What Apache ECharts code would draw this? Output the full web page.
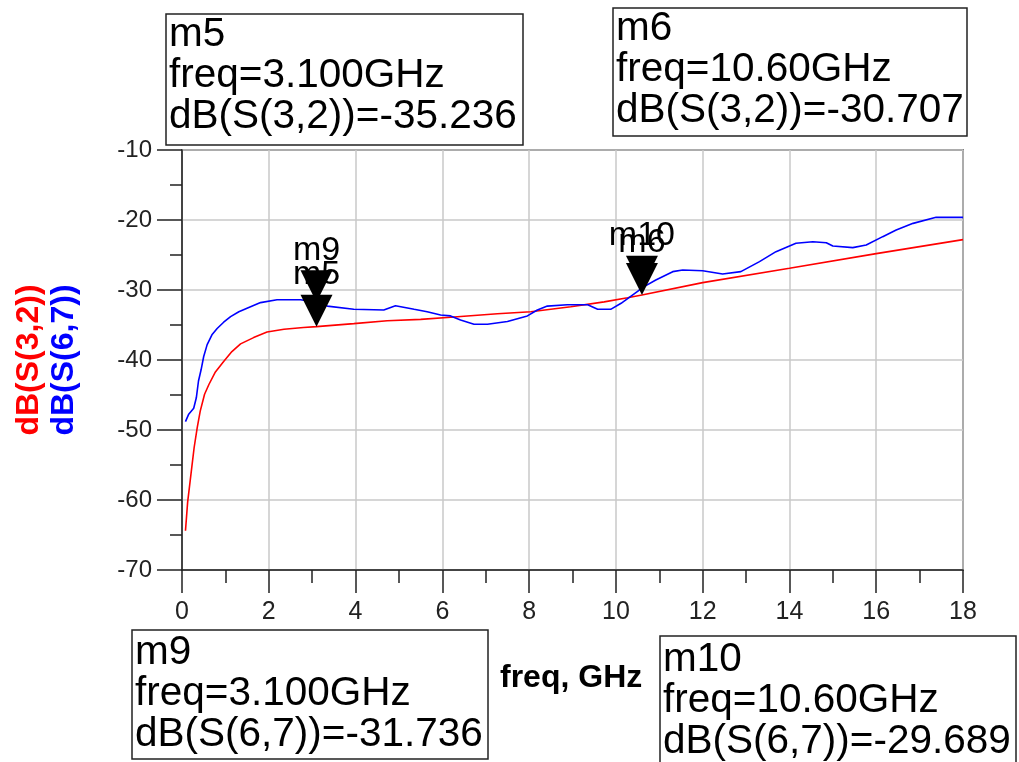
<!DOCTYPE html>
<html><head><meta charset="utf-8">
<script src="https://cdn.jsdelivr.net/npm/echarts@6/dist/echarts.min.js"></script>
<style>html,body{margin:0;padding:0;background:#fff}#c{width:1019px;height:762px}</style>
</head><body><div id="c"></div>
<script>
// dB(S(3,2)) — red trace
const s32Freq = [0.08,0.13,0.18,0.23,0.28,0.35,0.42,0.52,0.62,0.77,0.96,1.15,1.35,1.65,1.96,2.35,2.8,3.1,3.96,4.73,5.5,6.27,7.27,8.04,8.96,9.73,10.27,10.6,12,14,16,18];
const s32dB   = [-64.4,-60.3,-57.7,-55.1,-52.5,-49.7,-47.3,-44.9,-43.5,-41.7,-40.2,-38.8,-37.7,-36.8,-36.0,-35.6,-35.35,-35.236,-34.8,-34.4,-34.2,-33.85,-33.4,-33.1,-32.4,-31.7,-31.1,-30.707,-28.95,-26.9,-24.8,-22.8];
// dB(S(6,7)) — blue trace
const s67Freq = [0.08,0.15,0.27,0.33,0.38,0.44,0.5,0.58,0.69,0.81,0.96,1.12,1.31,1.58,1.81,2.19,2.73,3.1,3.35,3.96,4.65,4.92,5.35,5.65,5.96,6.19,6.42,6.73,7.04,7.5,7.96,8.19,8.42,8.88,9.35,9.58,9.88,10.12,10.5,10.6,10.92,11.31,11.54,12,12.46,12.88,13.31,13.69,14.15,14.54,14.85,15,15.46,15.77,16.15,16.46,16.85,17.38,18];
const s67dB   = [-48.8,-47.8,-46.9,-45.4,-43.0,-41.4,-39.5,-37.8,-36.4,-35.5,-34.6,-33.8,-33.1,-32.4,-31.8,-31.4,-31.4,-31.736,-32.3,-32.76,-32.86,-32.24,-32.76,-33.1,-33.57,-33.7,-34.3,-34.9,-34.9,-34.5,-33.7,-32.86,-32.3,-32.1,-32.1,-32.76,-32.76,-31.9,-30.2,-29.689,-28.57,-27.38,-27.14,-27.24,-27.71,-27.38,-25.95,-24.52,-23.33,-23.1,-23.24,-23.71,-23.95,-23.57,-22.38,-21.43,-20.48,-19.62,-19.62];
// markers
const markerNames  = ['m5','m6','m9','m10'];
const markerFreqs  = [3.1, 10.6, 3.1, 10.6];
const markerValues = [-35.236, -30.707, -31.736, -29.689];
const markerTraces = ['dB(S(3,2))','dB(S(3,2))','dB(S(6,7))','dB(S(6,7))'];
const traceNames   = ['dB(S(3,2))','dB(S(6,7))'];
const xAxisTitle   = 'freq, GHz';

const FONT = '"Liberation Sans", Arial, sans-serif';
const chart = echarts.init(document.getElementById('c'), null, {renderer:'canvas'});
function pairs(xs, ys){ return xs.map((x,i)=>[x, ys[i]]); }
function markerText(i){
  return markerNames[i] + '\nfreq=' + markerFreqs[i].toPrecision(4) + 'GHz\n' +
         markerTraces[i] + '=' + markerValues[i].toFixed(3);
}
function markPts(trace){
  const out = [];
  markerNames.forEach((n,i)=>{ if (markerTraces[i]===trace) out.push({name:n, coord:[markerFreqs[i], markerValues[i]]}); });
  return out;
}
const markStyle = {
  symbol: 'path://M0,0L2,0L1,2Z',
  symbolSize: [32,32],
  symbolOffset: [0,-16],
  itemStyle: {color:'#000'},
  label: {show:true, position:'top', distance:3, formatter:'{b}', color:'#000', fontSize:34, fontFamily:FONT},
  silent: true
};
const boxes = [
  {i:0, x:166, y:14,  w:357, h:131, ty:14},
  {i:1, x:613, y:8,   w:354, h:128, ty:8},
  {i:2, x:132, y:630, w:356, h:129, ty:632},
  {i:3, x:660, y:636, w:356, h:132, ty:639}
];
const graphics = [];
boxes.forEach(b=>{
  graphics.push({type:'rect', shape:{x:b.x, y:b.y, width:b.w, height:b.h}, style:{fill:'#fff', stroke:'#222', lineWidth:1.5}, z:10});
  graphics.push({type:'text', x:b.x+3, y:b.ty, style:{text:markerText(b.i), fontSize:40.5, fontFamily:FONT, fill:'#000', lineHeight:41, verticalAlign:'top', align:'left'}, z:11});
});
graphics.push({type:'text', x:29, y:360, rotation:Math.PI/2, style:{text:traceNames[0], fontSize:32, fontWeight:'bold', fontFamily:FONT, fill:'#ff0000', align:'center', verticalAlign:'middle'}});
graphics.push({type:'text', x:64, y:360, rotation:Math.PI/2, style:{text:traceNames[1], fontSize:32, fontWeight:'bold', fontFamily:FONT, fill:'#0000ff', align:'center', verticalAlign:'middle'}});
graphics.push({type:'text', x:500, y:678, style:{text:xAxisTitle, fontSize:32, fontWeight:'bold', fontFamily:FONT, fill:'#000', align:'left', verticalAlign:'middle'}});

const axisCommon = {
  axisLine:{show:true, lineStyle:{color:'#222', width:1.5}},
  splitLine:{show:true, lineStyle:{color:'#c8c8c8', width:1.5}},
};
chart.setOption({
  animation:false,
  backgroundColor:'#fff',
  grid:{left:182, right:56, top:150, bottom:192, show:true, borderColor:'#222', borderWidth:1.5, outerBoundsMode:'none'},
  xAxis:Object.assign({type:'value', min:0, max:18, interval:2,
    axisLabel:{margin:30, fontSize:25, color:'#222', fontFamily:FONT}}, axisCommon,
    {axisTick:{show:true, length:23, lineStyle:{color:'#222', width:1.5}}, minorTick:{show:true, splitNumber:2, length:13, lineStyle:{color:'#222', width:1.5}}}),
  yAxis:Object.assign({type:'value', min:-70, max:-10, interval:10,
    axisLabel:{margin:30, fontSize:24, color:'#222', fontFamily:FONT}}, axisCommon,
    {axisTick:{show:true, length:25, lineStyle:{color:'#222', width:1.5}}, minorTick:{show:true, splitNumber:2, length:12, lineStyle:{color:'#222', width:1.5}}}),
  series:[
    {name:traceNames[0], type:'line', data:pairs(s32Freq, s32dB), showSymbol:false, symbol:'none',
     lineStyle:{color:'#ff0000', width:1.6}, itemStyle:{color:'#ff0000'}, z:2,
     markPoint:Object.assign({data:markPts(traceNames[0])}, markStyle)},
    {name:traceNames[1], type:'line', data:pairs(s67Freq, s67dB), showSymbol:false, symbol:'none',
     lineStyle:{color:'#0000ff', width:1.6}, itemStyle:{color:'#0000ff'}, z:3,
     markPoint:Object.assign({data:markPts(traceNames[1])}, markStyle)}
  ],
  graphic:graphics
});
</script></body></html>
